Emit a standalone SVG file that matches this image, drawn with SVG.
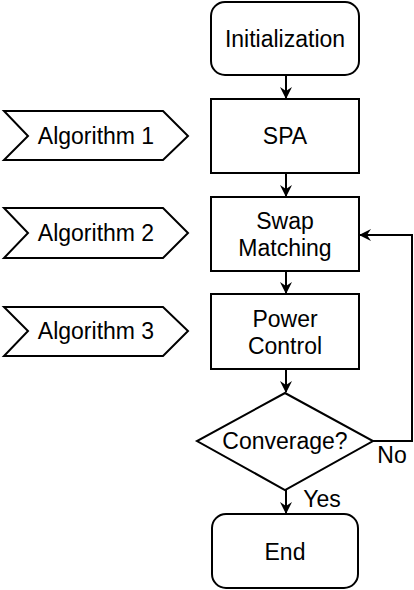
<svg xmlns="http://www.w3.org/2000/svg" width="414" height="590" viewBox="0 0 414 590">
<defs>
<style>
.s{fill:#fff;stroke:#000;stroke-width:2}
.t{font-family:"Liberation Sans",Arial,sans-serif;font-size:23px;fill:#000;text-anchor:middle}
.c{fill:none;stroke:#000;stroke-width:2}
</style>
<marker id="a" viewBox="0 0 12 12" refX="11" refY="6" markerWidth="12" markerHeight="12" orient="auto" markerUnits="userSpaceOnUse">
<path d="M0,0 L12,6 L0,12 L4,6 Z" fill="#000"/>
</marker>
</defs>
<rect width="414" height="590" fill="#fff"/>
<g id="connectors">
<path class="c" d="M286,75 V98" marker-end="url(#a)"/>
<path class="c" d="M286,173 V196" marker-end="url(#a)"/>
<path class="c" d="M286,271 V293" marker-end="url(#a)"/>
<path class="c" d="M286,369 V392" marker-end="url(#a)"/>
<path class="c" d="M286,490 V513" marker-end="url(#a)"/>
<path class="c" d="M373,441 H412 V235 H360" marker-end="url(#a)"/>
<text class="t" x="392" y="463">No</text>
<text class="t" x="322" y="507">Yes</text>
</g>
<g id="init"><rect class="s" x="211" y="2" width="148" height="73" rx="14"/><text class="t" x="285" y="47">Initialization</text></g>
<g id="spa"><rect class="s" x="211" y="99" width="148" height="74"/><text class="t" x="285" y="144">SPA</text></g>
<g id="swap"><rect class="s" x="211" y="197" width="148" height="74"/><text class="t" x="285" y="229">Swap</text><text class="t" x="285" y="256">Matching</text></g>
<g id="power"><rect class="s" x="211" y="294" width="148" height="75"/><text class="t" x="285" y="327">Power</text><text class="t" x="285" y="354">Control</text></g>
<g id="conv"><path class="s" d="M285,393 L373,441 L285,490 L197,441 Z"/><text class="t" x="285" y="449">Converage?</text></g>
<g id="end"><rect class="s" x="212" y="514" width="146" height="74" rx="14"/><text class="t" x="285" y="560">End</text></g>
<g id="alg1"><path class="s" d="M4,111 H163 L188,136 L163,160 H4 L28,136 Z"/><text class="t" x="96" y="144">Algorithm 1</text></g>
<g id="alg2"><path class="s" d="M4,208 H163 L188,233 L163,258 H4 L28,233 Z"/><text class="t" x="96" y="241">Algorithm 2</text></g>
<g id="alg3"><path class="s" d="M4,307 H163 L188,331 L163,356 H4 L28,331 Z"/><text class="t" x="96" y="339">Algorithm 3</text></g>
</svg>
